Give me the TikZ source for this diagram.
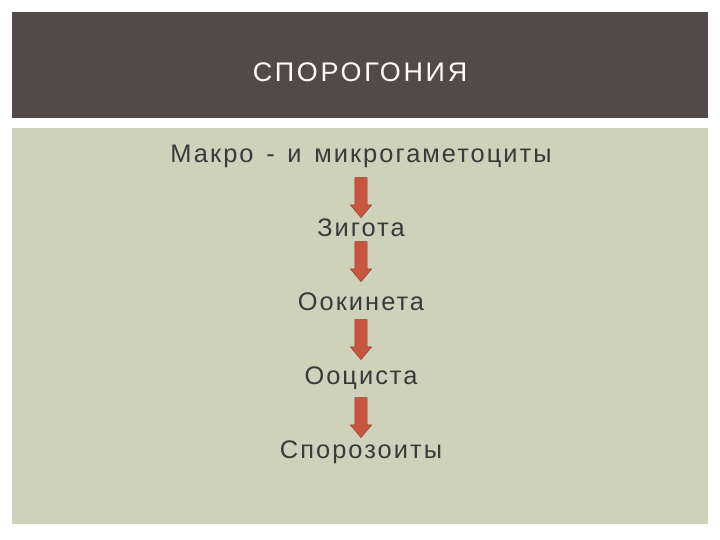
\documentclass[tikz,border=0pt]{standalone}
\usepackage{fontspec}
\setmainfont{Liberation Sans}
\newfontfamily\titlefont[LetterSpace=10]{Liberation Sans}
\newfontfamily\stagefont[LetterSpace=8]{Liberation Sans}
\usetikzlibrary{shapes.arrows, positioning}
\definecolor{headbrown}{HTML}{524A47}
\definecolor{bodygreen}{HTML}{CFD2BA}
\definecolor{textgrey}{HTML}{3A3A3A}
\definecolor{arrowred}{HTML}{C8553F}
\definecolor{arrowedge}{HTML}{8E3A2C}
\tikzstyle{stage} = [text=textgrey, font=\stagefont\fontsize{25.5}{28}\selectfont, text height=18bp, text depth=5bp, inner sep=2bp]
\tikzstyle{blockarrow} = [single arrow, rotate=-90, draw=arrowedge, fill=arrowred, minimum height=40bp, minimum width=21bp, text height=12bp, text depth=0pt, single arrow head extend=4.5bp, single arrow tip angle=80, inner sep=0pt]

\begin{document}
\begin{tikzpicture}[x=1bp, y=-1bp, node distance=74bp]
    \fill[white] (0,0) rectangle (720,540);
    \fill[headbrown] (12,12) rectangle (708,118);
    \fill[bodygreen] (12,128) rectangle (708,524);
    \node (title) at (360,72) [text=white, font=\titlefont\fontsize{27}{30}\selectfont] {СПОРОГОНИЯ};
    \node (makro) at (361,156) [stage] {Макро\hspace{0.5em}-\hspace{0.5em}и\hspace{0.5em}микрогаметоциты};
    \node (zigota) [stage, below of=makro] {Зигота};
    \node (ookineta) [stage, below of=zigota] {Оокинета};
    \node (oocista) [stage, below of=ookineta] {Ооциста};
    \node (sporozoity) [stage, below of=oocista] {Спорозоиты};
    \path (makro.center) -- node[yshift=-1bp, blockarrow] {} (zigota.center);
    \path (zigota.center) -- node[yshift=9bp, blockarrow] {} (ookineta.center);
    \path (ookineta.center) -- node[yshift=5bp, blockarrow] {} (oocista.center);
    \path (oocista.center) -- node[yshift=1bp, blockarrow] {} (sporozoity.center);
\end{tikzpicture}
\end{document}
